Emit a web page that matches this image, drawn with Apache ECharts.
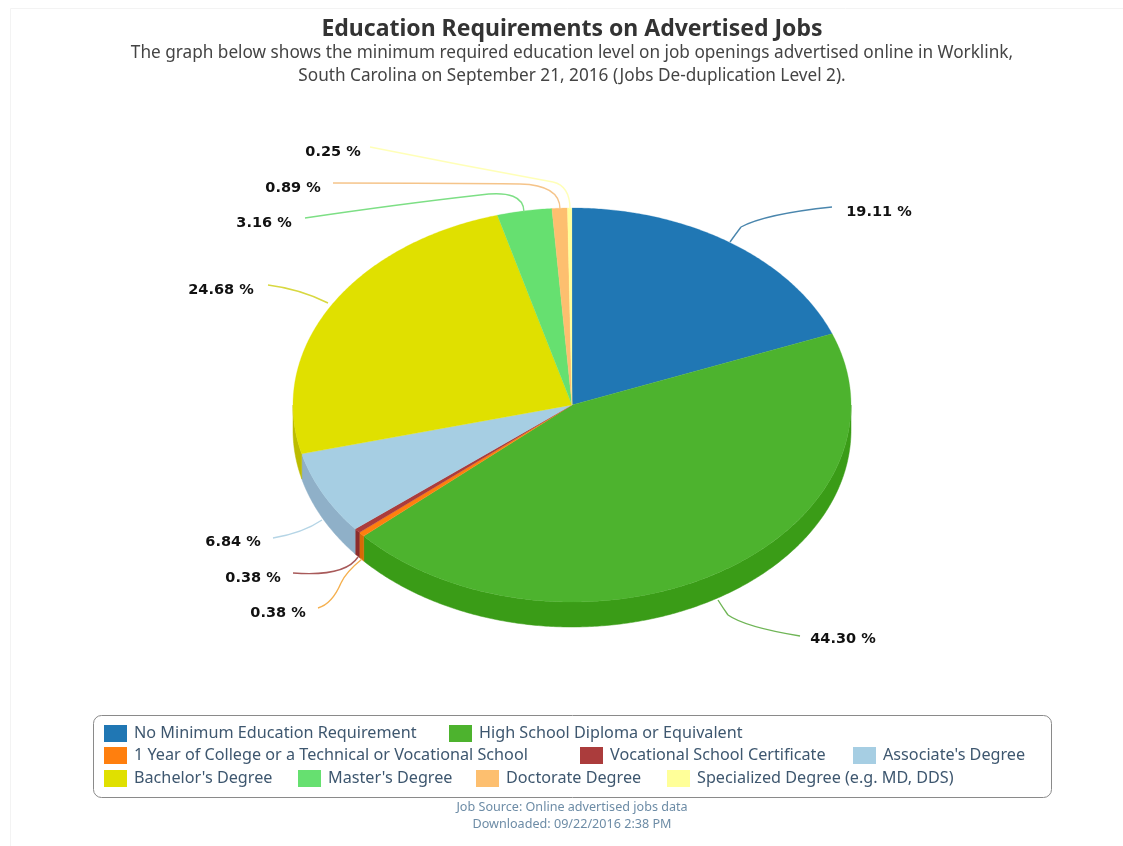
<!DOCTYPE html>
<html><head><meta charset="utf-8">
<style>html,body{margin:0;padding:0;background:#fff}#c{width:1123px;height:846px}</style>
<script src="https://cdn.jsdelivr.net/npm/echarts@6/dist/echarts.min.js"></script>
</head><body><div id="c"></div>
<script>
const categories = ["No Minimum Education Requirement","High School Diploma or Equivalent","1 Year of College or a Technical or Vocational School","Vocational School Certificate","Associate's Degree","Bachelor's Degree","Master's Degree","Doctorate Degree","Specialized Degree (e.g. MD, DDS)"];
const shares = [19.11,44.30,0.38,0.38,6.84,24.68,3.16,0.89,0.25];
const topColors = ["#2077b4","#4db32e","#ff7f0e","#ab3c3c","#a6cee3","#e0e000","#66e070","#fdbf6f","#ffff99"];
const sideColors = ["#1a6090","#3a9c17","#d96a05","#8c2c2c","#8fb0c8","#bcbc00","#52bc5a","#d8a05c","#d8d880"];
const titleText = "Education Requirements on Advertised Jobs";
const subtitleText = "The graph below shows the minimum required education level on job openings advertised online in Worklink,\nSouth Carolina on September 21, 2016 (Jobs De-duplication Level 2).";
const footerText = "Job Source: Online advertised jobs data\nDownloaded: 09/22/2016 2:38 PM";

// layout
const CX=572, CY=405, RX=279, RY=197, DEPTH=25;
const labelPos = [[879,212],[843,639],[278,613],[253,578],[233,542],[221,290],[264,223],[293,188],[333,152]];
const legendPos = [[104,725],[449,725],[104,747],[580,747],[853,747],[104,770],[298,770],[476,770],[667,770]];
// leader curves: each segment x1,y1,cpx,cpy,x2,y2
const leaders = [
 [[730,242,735,235,741,227],[741,227,765,214,832,207]],
 [[718,600,723,608,728,615],[728,615,745,627,800,636]],
 [[318,608,332,604,341,583],[341,583,346,572,362,559]],
 [[293,573,345,577,358,557]],
 [[273,538,303,533,322,520]],
 [[268,285,300,289,328,303]],
 [[305,218,400,204,480,195],[480,195,524,189,524,212]],
 [[333,183,450,183,520,184],[520,184,560,185,560,209]],
 [[370,147,460,165,553,182],[553,182,570,186,570,209]]
];
const leaderColors = ["#4a86ad","#6fb556","#f5b04f","#a85a5a","#b5d5e6","#d8d840","#7ddf85","#f5c48a","#ffffb8"];

function pt(a,dy){const t=a*Math.PI/180;return [CX+RX*Math.sin(t),CY-RY*Math.cos(t)+(dy||0)];}
function arc(a0,a1,dy){const n=Math.max(2,Math.ceil((a1-a0)/0.5));const out=[];for(let i=0;i<=n;i++){out.push(pt(a0+(a1-a0)*i/n,dy));}return out;}

function makeRender(i){
 return function(params,api){
  const a0=api.value(0)*3.6,a1=api.value(1)*3.6;
  const children=[];
  const s0=Math.max(a0,90),s1=Math.min(a1,270);
  if(s1>s0){
    const upper=arc(s0,s1,0),lower=arc(s0,s1,DEPTH).reverse();
    children.push({type:'polygon',shape:{points:upper.concat(lower)},style:{fill:sideColors[i],stroke:sideColors[i],lineWidth:0.5}});
  }
  children.push({type:'polygon',shape:{points:[[CX,CY]].concat(arc(a0,a1,0))},style:{fill:topColors[i],stroke:topColors[i],lineWidth:0.3}});
  leaders[i].forEach(s=>children.push({type:'bezierCurve',shape:{x1:s[0],y1:s[1],cpx1:s[2],cpy1:s[3],x2:s[4],y2:s[5]},style:{stroke:leaderColors[i],lineWidth:1.4,fill:null}}));
  children.push({type:'text',style:{text:shares[i].toFixed(2)+' %',x:labelPos[i][0],y:labelPos[i][1],align:'center',verticalAlign:'middle',font:'bold 14.5px "DejaVu Sans"',fill:'#111'}});
  return {type:'group',children};
 };
}
let cum=0;
const series=categories.map((name,i)=>{
  const s=cum; cum+=shares[i];
  return {type:'custom',name,coordinateSystem:'none',animation:false,silent:true,clip:false,
    itemStyle:{color:topColors[i]},data:[[s,cum]],renderItem:makeRender(i)};
});
const legend=categories.map((name,i)=>({
  data:[name],left:legendPos[i][0],top:legendPos[i][1],padding:0,
  icon:'rect',itemWidth:23,itemHeight:17,selectedMode:false,
  textStyle:{fontFamily:'Noto Sans',fontSize:16.2,color:'#3e576f',padding:[6,0,0,2]}
}));
const chart=echarts.init(document.getElementById('c'),null,{renderer:'canvas'});
chart.setOption({
  backgroundColor:'#fff',animation:false,
  title:[
   {text:titleText,subtext:subtitleText,left:572,textAlign:'center',top:18,padding:0,itemGap:1,
    textStyle:{fontFamily:'Noto Sans',fontSize:23,fontWeight:'bold',color:'#333'},
    subtextStyle:{fontFamily:'Noto Sans',fontSize:17.2,color:'#444',lineHeight:23,align:'center'}},
   {text:footerText,left:572,textAlign:'center',top:799,padding:0,
    textStyle:{fontFamily:'Noto Sans',fontSize:12.6,fontWeight:'normal',color:'#6d8ca6',lineHeight:17,align:'center'}}
  ],
  legend,series,
  graphic:[
   {type:'rect',z:-1,shape:{x:10.5,y:8.5,width:1200,height:900},style:{fill:'#fff',stroke:'#f3f3f3',lineWidth:1},silent:true},
   {type:'rect',z:0,shape:{x:93.5,y:715.5,width:958,height:82,r:8},style:{fill:'#fff',stroke:'#8a8a8a',lineWidth:1},silent:true}
  ]
});
</script></body></html>
